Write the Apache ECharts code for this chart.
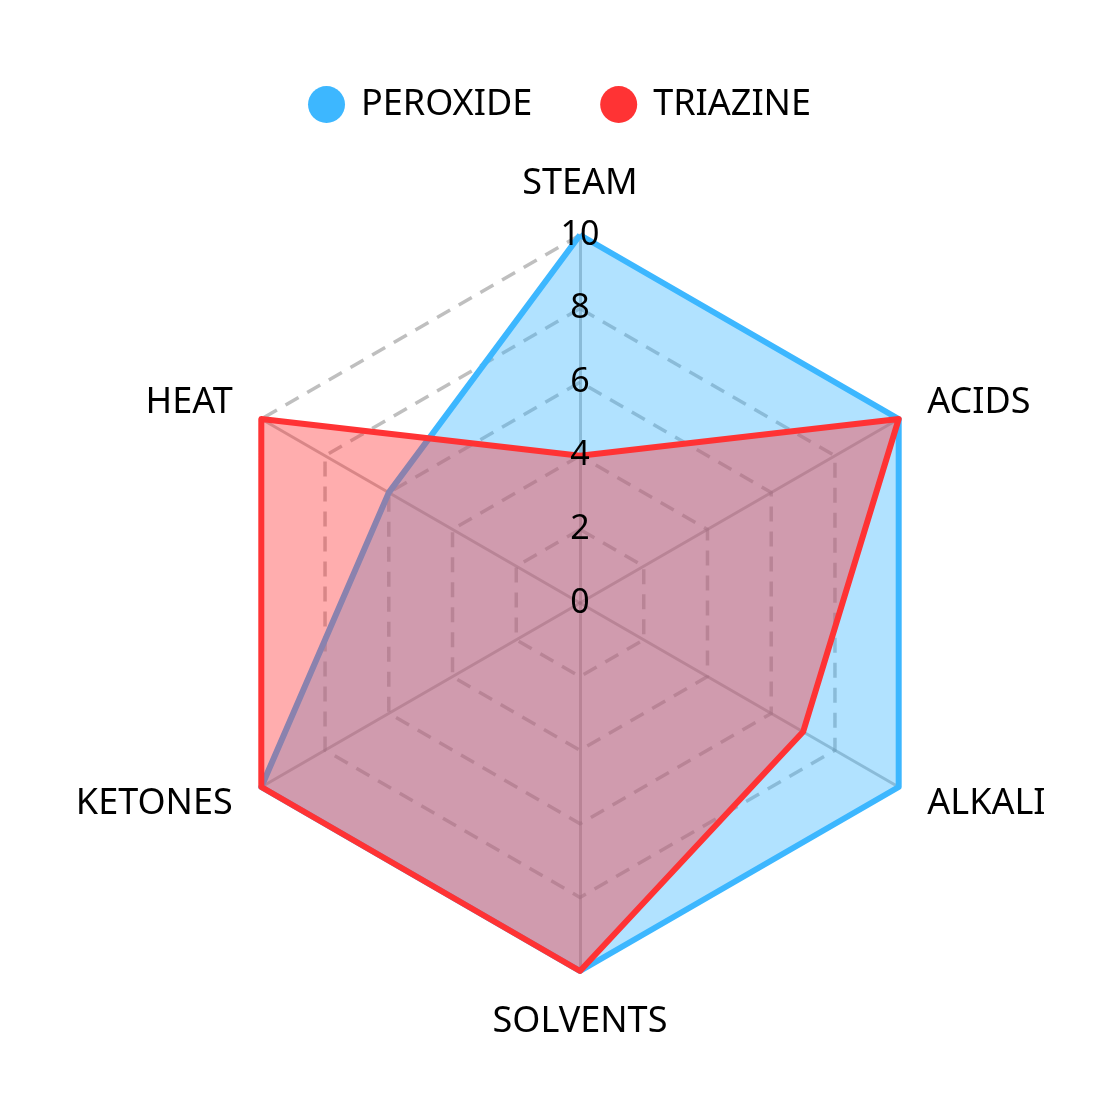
<!DOCTYPE html>
<html>
<head>
<meta charset="utf-8">
<script src="https://cdn.jsdelivr.net/npm/echarts@6/dist/echarts.min.js"></script>
<style>html,body{margin:0;padding:0;background:#fff}#c{width:1119px;height:1103px}</style>
</head>
<body>
<div id="c"></div>
<script>
// Indicators listed counterclockwise from the top (ECharts default direction)
const indicatorNames = ['STEAM', 'HEAT', 'KETONES', 'SOLVENTS', 'ALKALI', 'ACIDS'];
const maxValue = 10;
const seriesNames = ['PEROXIDE', 'TRIAZINE'];
const peroxide = [10, 6, 10, 10, 10, 10];
const triazine = [4, 10, 10, 10, 7, 10];
const colors = ['#3db7ff', '#ff3334'];

const FONT = 'Noto Sans';
const chart = echarts.init(document.getElementById('c'));

const baseRadar = {
  center: [580, 603],
  radius: 368,
  splitNumber: 5
};

chart.setOption({
  backgroundColor: '#fff',
  animation: false,
  color: colors,
  textStyle: { fontFamily: FONT },
  legend: {
    data: seriesNames,
    top: 81,
    left: 'center',
    icon: 'circle',
    itemWidth: 37,
    itemHeight: 37,
    itemGap: 68,
    textStyle: { fontSize: 36, color: '#000', fontFamily: FONT, padding: [0, 0, 0, 11] }
  },
  radar: [
    Object.assign({}, baseRadar, {
      z: 1,
      nameGap: 33,
      axisName: { color: '#000', fontSize: 36, fontFamily: FONT },
      indicator: indicatorNames.map(n => ({ name: n, min: 0, max: maxValue })),
      axisLabel: { show: false },
      axisLine: { lineStyle: { color: 'rgba(128,128,128,0.5)', width: 3 } },
      splitLine: { lineStyle: { color: 'rgba(128,128,128,0.5)', width: 3.5, type: [15, 10] } },
      splitArea: { show: false }
    }),
    Object.assign({}, baseRadar, {
      z: 5,
      axisName: { show: false },
      indicator: indicatorNames.map((n, i) => {
        const o = { name: '', min: 0, max: maxValue };
        if (i === 0) {
          o.axisLabel = {
            show: true, color: '#000', fontSize: 34, fontFamily: FONT,
            align: 'center', verticalAlign: 'middle', margin: 0
          };
        }
        return o;
      }),
      axisLabel: { show: false },
      axisLine: { show: false },
      splitLine: { show: false },
      splitArea: { show: false }
    })
  ],
  series: [{
    type: 'radar',
    radarIndex: 0,
    symbol: 'none',
    z: 2,
    data: [
      { name: seriesNames[0], value: peroxide,
        lineStyle: { width: 6, color: colors[0] }, areaStyle: { color: colors[0], opacity: 0.4 } },
      { name: seriesNames[1], value: triazine,
        lineStyle: { width: 6, color: colors[1] }, areaStyle: { color: colors[1], opacity: 0.4 } }
    ]
  }]
});
</script>
</body>
</html>
